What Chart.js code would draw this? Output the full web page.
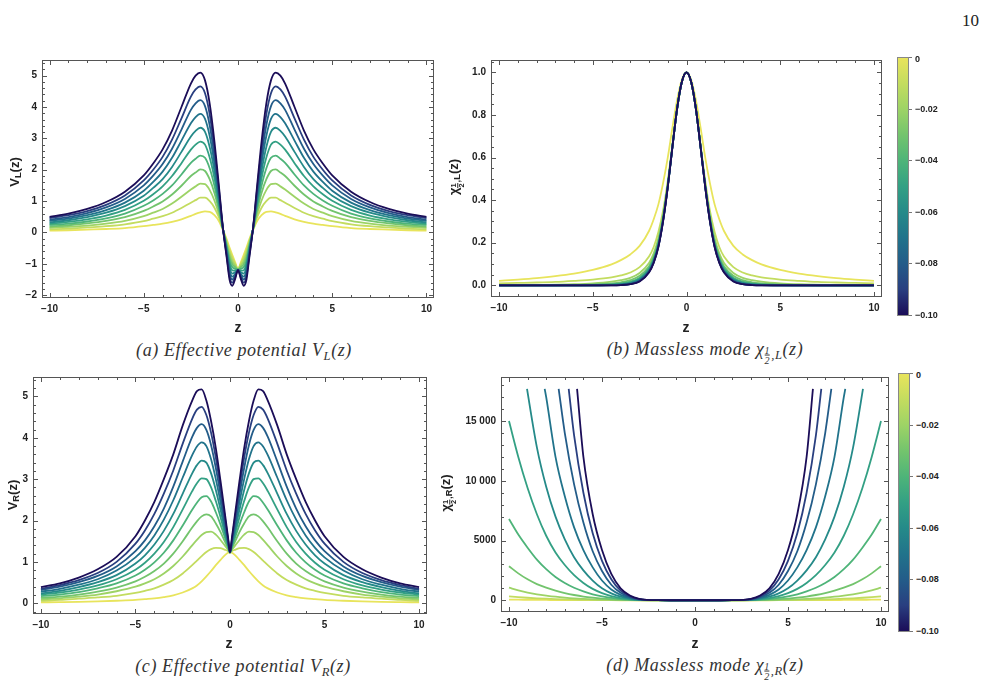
<!DOCTYPE html>
<html>
<head>
<meta charset="utf-8">
<script src="https://cdn.jsdelivr.net/npm/chart.js@4.4.1/dist/chart.umd.min.js"></script>
<style>
  body { margin: 0; background: #fff; width: 986px; height: 697px; position: relative; overflow: hidden; font-family: "Liberation Sans", Arial, sans-serif; }
  canvas { position: absolute; }
  .lbl { position: absolute; font-weight: bold; font-size: 14px; color: #222; white-space: nowrap; transform: translate(-50%, -50%); }
  .ylbl { font-size: 13px; transform: translate(-50%, -50%) rotate(-90deg); }
  .lbl sub { font-size: 0.72em; vertical-align: -0.25em; }
  .cap { position: absolute; font-family: "Liberation Serif", "DejaVu Serif", serif; font-style: italic; font-size: 18px; color: #333; white-space: nowrap; transform: translate(-50%, -50%); letter-spacing: 0.6px; }
  .cap sub { font-size: 0.7em; vertical-align: -0.3em; }
  .frac { display: inline-flex; flex-direction: column; vertical-align: middle; font-size: 0.8em; line-height: 0.95; text-align: center; margin-right: 1px; }
  .frac span:first-child { border-bottom: 1px solid currentColor; }
  .page { position: absolute; left: 962px; top: 11px; font-family: "Liberation Serif", serif; font-size: 17px; color: #222; }
  .cbar { position: absolute; width: 12px; border: 1px solid #888; box-sizing: border-box; }
  .cbl { position: absolute; font-weight: bold; font-size: 9px; color: #222; transform: translateY(-50%); white-space: nowrap; }
  .cbt { position: absolute; width: 3px; height: 1px; background: #777; }
</style>
</head>
<body>
<div class="page">10</div>
<script>
// parameter values of the 11 curves (colour bar), yellow = 0 ... dark = -0.10
const paramValues = [0, -0.01, -0.02, -0.03, -0.04, -0.05, -0.06, -0.07, -0.08, -0.09, -0.10];
const curveColors = ['#e8e45c', '#c3dc5f', '#9dd366', '#73c46d', '#4eb479', '#33a084', '#258a89', '#21738b', '#235c89', '#293f80', '#1b0d58'];

// colour bar ticks
const cbValues = [0, -0.02, -0.04, -0.06, -0.08, -0.10];
const cbLabels = ['0', '−0.02', '−0.04', '−0.06', '−0.08', '−0.10'];

// shared x ticks
const xTicks = [-10, -5, 0, 5, 10];
const xTickLabels = ['−10', '−5', '0', '5', '10'];

// (a) effective potential V_L(z), read for z >= 0 (curves are even in z)
const zA = [0, 0.15, 0.3, 0.45, 0.6, 0.8, 1.0, 1.25, 1.5, 1.75, 2.0, 2.25, 2.5, 3, 3.5, 4, 4.5, 5, 6, 7, 8, 9, 10];
const vL = [
  [-1.17, -0.95, -0.72, -0.48, -0.22, 0.08, 0.35, 0.55, 0.66, 0.67, 0.64, 0.59, 0.53, 0.42, 0.34, 0.28, 0.24, 0.20, 0.14, 0.11, 0.09, 0.07, 0.06],
  [-1.17, -1.00, -0.82, -0.58, -0.28, 0.09, 0.46, 0.79, 1.00, 1.11, 1.11, 1.03, 0.95, 0.78, 0.63, 0.52, 0.44, 0.36, 0.26, 0.20, 0.16, 0.12, 0.10],
  [-1.18, -1.06, -0.92, -0.68, -0.34, 0.09, 0.56, 1.02, 1.35, 1.54, 1.56, 1.47, 1.37, 1.14, 0.92, 0.75, 0.63, 0.52, 0.37, 0.28, 0.22, 0.18, 0.15],
  [-1.18, -1.11, -1.01, -0.79, -0.39, 0.10, 0.67, 1.26, 1.69, 1.96, 2.01, 1.91, 1.80, 1.49, 1.21, 0.99, 0.83, 0.69, 0.49, 0.37, 0.29, 0.23, 0.19],
  [-1.18, -1.16, -1.11, -0.89, -0.45, 0.11, 0.77, 1.49, 2.04, 2.38, 2.45, 2.35, 2.22, 1.85, 1.50, 1.23, 1.02, 0.85, 0.60, 0.45, 0.35, 0.28, 0.24],
  [-1.19, -1.22, -1.21, -0.99, -0.51, 0.12, 0.88, 1.73, 2.38, 2.80, 2.90, 2.80, 2.64, 2.21, 1.80, 1.47, 1.22, 1.01, 0.72, 0.54, 0.42, 0.34, 0.28],
  [-1.19, -1.27, -1.31, -1.09, -0.57, 0.12, 0.98, 1.96, 2.72, 3.21, 3.34, 3.24, 3.06, 2.57, 2.09, 1.70, 1.42, 1.17, 0.84, 0.63, 0.49, 0.39, 0.32],
  [-1.19, -1.32, -1.41, -1.19, -0.63, 0.13, 1.09, 2.20, 3.07, 3.62, 3.78, 3.68, 3.48, 2.93, 2.38, 1.94, 1.61, 1.33, 0.95, 0.71, 0.55, 0.44, 0.37],
  [-1.19, -1.37, -1.50, -1.30, -0.68, 0.14, 1.19, 2.43, 3.41, 4.03, 4.22, 4.12, 3.91, 3.28, 2.67, 2.18, 1.81, 1.50, 1.07, 0.80, 0.62, 0.49, 0.41],
  [-1.20, -1.43, -1.60, -1.40, -0.74, 0.14, 1.30, 2.67, 3.76, 4.44, 4.66, 4.56, 4.33, 3.64, 2.96, 2.41, 2.00, 1.66, 1.18, 0.88, 0.68, 0.55, 0.46],
  [-1.20, -1.48, -1.70, -1.50, -0.80, 0.15, 1.40, 2.90, 4.10, 4.85, 5.10, 5.00, 4.75, 4.00, 3.25, 2.65, 2.20, 1.82, 1.30, 0.97, 0.75, 0.60, 0.50]
];
const yTicksA = [-2, -1, 0, 1, 2, 3, 4, 5];
const yLabelsA = ['−2', '−1', '0', '1', '2', '3', '4', '5'];

// (b) massless mode chi_{1/2,L}(z), z >= 0
const zB = [0, 0.25, 0.5, 0.75, 1, 1.25, 1.5, 1.75, 2, 2.5, 3, 3.5, 4, 5, 6, 7, 8, 9, 10];
const chiL = [
  [1, 0.965, 0.87, 0.74, 0.60, 0.48, 0.38, 0.31, 0.255, 0.185, 0.145, 0.118, 0.098, 0.072, 0.055, 0.043, 0.034, 0.027, 0.021],
  [1, 0.955, 0.83, 0.66, 0.49, 0.35, 0.25, 0.18, 0.135, 0.085, 0.06, 0.046, 0.037, 0.027, 0.021, 0.016, 0.013, 0.011, 0.009],
  [1, 0.955, 0.83, 0.656, 0.478, 0.33, 0.222, 0.15, 0.105, 0.058, 0.035, 0.024, 0.017, 0.009, 0.005, 0.003, 0.002, 0.001, 0.001],
  [1, 0.955, 0.83, 0.654, 0.472, 0.32, 0.208, 0.135, 0.09, 0.045, 0.024, 0.014, 0.009, 0.004, 0.002, 0.001, 0.001, 0, 0],
  [1, 0.955, 0.83, 0.653, 0.468, 0.314, 0.20, 0.126, 0.081, 0.036, 0.017, 0.009, 0.005, 0.002, 0.001, 0, 0, 0, 0],
  [1, 0.955, 0.83, 0.652, 0.466, 0.31, 0.194, 0.12, 0.075, 0.031, 0.013, 0.006, 0.003, 0.001, 0, 0, 0, 0, 0],
  [1, 0.955, 0.83, 0.651, 0.464, 0.307, 0.19, 0.116, 0.07, 0.027, 0.01, 0.004, 0.002, 0, 0, 0, 0, 0, 0],
  [1, 0.955, 0.83, 0.651, 0.463, 0.305, 0.186, 0.112, 0.067, 0.024, 0.008, 0.003, 0.001, 0, 0, 0, 0, 0, 0],
  [1, 0.955, 0.83, 0.65, 0.462, 0.303, 0.184, 0.109, 0.064, 0.021, 0.006, 0.002, 0.001, 0, 0, 0, 0, 0, 0],
  [1, 0.955, 0.83, 0.65, 0.461, 0.301, 0.181, 0.107, 0.062, 0.019, 0.005, 0.001, 0, 0, 0, 0, 0, 0, 0],
  [1, 0.955, 0.83, 0.65, 0.46, 0.30, 0.18, 0.105, 0.06, 0.018, 0.005, 0.001, 0, 0, 0, 0, 0, 0, 0]
];
const yTicksB = [0, 0.2, 0.4, 0.6, 0.8, 1.0];
const yLabelsB = ['0.0', '0.2', '0.4', '0.6', '0.8', '1.0'];

// (c) effective potential V_R(z), z >= 0
const zC = [0, 0.1, 0.25, 0.5, 0.75, 1.0, 1.25, 1.5, 1.75, 2.0, 2.5, 3, 3.5, 4, 4.5, 5, 6, 7, 8, 9, 10];
const vR = [
  [1.23, 1.22, 1.17, 1.05, 0.92, 0.78, 0.65, 0.53, 0.43, 0.36, 0.26, 0.19, 0.15, 0.12, 0.10, 0.08, 0.06, 0.045, 0.035, 0.028, 0.022],
  [1.23, 1.26, 1.29, 1.33, 1.34, 1.31, 1.24, 1.14, 1.03, 0.92, 0.72, 0.56, 0.45, 0.36, 0.30, 0.25, 0.18, 0.14, 0.11, 0.08, 0.06],
  [1.23, 1.29, 1.38, 1.53, 1.66, 1.73, 1.72, 1.65, 1.53, 1.40, 1.13, 0.90, 0.72, 0.58, 0.48, 0.40, 0.29, 0.21, 0.16, 0.12, 0.095],
  [1.23, 1.33, 1.47, 1.72, 1.93, 2.10, 2.15, 2.10, 1.98, 1.83, 1.50, 1.20, 0.96, 0.78, 0.64, 0.53, 0.38, 0.28, 0.21, 0.16, 0.13],
  [1.23, 1.36, 1.56, 1.90, 2.20, 2.46, 2.59, 2.56, 2.43, 2.26, 1.88, 1.52, 1.22, 0.99, 0.81, 0.67, 0.48, 0.36, 0.27, 0.21, 0.17],
  [1.23, 1.40, 1.65, 2.08, 2.47, 2.80, 3.00, 3.02, 2.90, 2.71, 2.27, 1.84, 1.48, 1.20, 0.98, 0.81, 0.58, 0.43, 0.33, 0.26, 0.21],
  [1.23, 1.44, 1.74, 2.26, 2.74, 3.14, 3.40, 3.45, 3.34, 3.14, 2.65, 2.16, 1.75, 1.42, 1.16, 0.96, 0.68, 0.51, 0.39, 0.30, 0.24],
  [1.23, 1.47, 1.83, 2.44, 3.00, 3.48, 3.80, 3.89, 3.79, 3.58, 3.04, 2.49, 2.02, 1.64, 1.34, 1.11, 0.79, 0.58, 0.45, 0.35, 0.28],
  [1.23, 1.51, 1.92, 2.62, 3.27, 3.82, 4.19, 4.33, 4.24, 4.02, 3.43, 2.82, 2.29, 1.86, 1.52, 1.26, 0.89, 0.66, 0.51, 0.40, 0.32],
  [1.23, 1.54, 2.01, 2.79, 3.52, 4.12, 4.55, 4.75, 4.68, 4.46, 3.86, 3.21, 2.65, 2.16, 1.76, 1.44, 1.00, 0.73, 0.56, 0.44, 0.35],
  [1.23, 1.58, 2.10, 2.95, 3.75, 4.40, 4.90, 5.17, 5.13, 4.90, 4.30, 3.60, 3.00, 2.45, 2.00, 1.62, 1.12, 0.82, 0.62, 0.48, 0.39]
];
const yTicksC = [0, 1, 2, 3, 4, 5];
const yLabelsC = ['0', '1', '2', '3', '4', '5'];

// (d) massless mode chi_{1/2,R}(z), z >= 0; the five darkest run off the plot range
const zD = [0, 1, 2, 3, 3.5, 4, 4.5, 5, 5.5, 6, 6.5, 7, 7.5, 8, 8.5, 9, 9.5, 10];
const chiR = [
  [0, 0, 0, 0, 0, 1, 2, 4, 5, 8, 10, 15, 18, 25, 30, 40, 48, 60],
  [0, 0, 0, 1, 3, 6, 11, 18, 27, 40, 55, 75, 100, 130, 165, 210, 265, 330],
  [0, 0, 1, 3, 9, 18, 32, 52, 80, 115, 160, 220, 295, 390, 500, 640, 830, 1050],
  [0, 0, 1, 8, 22, 45, 85, 140, 215, 310, 440, 600, 800, 1050, 1350, 1750, 2250, 2850],
  [0, 0, 2, 15, 45, 100, 190, 320, 500, 740, 1050, 1450, 1950, 2600, 3400, 4400, 5500, 6800],
  [0, 0, 2, 25, 80, 180, 350, 600, 950, 1450, 2100, 2950, 4000, 5400, 7200, 9400, 12000, 15000],
  [0, 0, 3, 40, 130, 300, 580, 1000, 1650, 2500, 3600, 5100, 7000, 9500, 12800, 17400, null, null],
  [0, 0, 3, 60, 190, 450, 900, 1650, 2750, 4200, 6100, 8700, 12000, 17000, null, null, null, null],
  [0, 0, 4, 80, 260, 620, 1300, 2450, 4100, 6500, 9700, 14000, null, null, null, null, null, null],
  [0, 0, 4, 100, 330, 800, 1750, 3300, 5600, 9000, 13800, null, null, null, null, null, null, null],
  [0, 0, 5, 120, 400, 1000, 2200, 4200, 7200, 12000, null, null, null, null, null, null, null, null]
];
const chiRTopZ = [null, null, null, null, null, null, 9.03, 8.08, 7.33, 6.79, 6.34];
const chiRClip = 17700;
const yTicksD = [0, 5000, 10000, 15000];
const yLabelsD = ['0', '5000', '10 000', '15 000'];

// ---------------------------------------------------------------
const AXW = 60, AXH = 24, PT = 6, PR = 4;
const TICK_FONT = { family: '"Liberation Sans", Arial, sans-serif', weight: 'bold', size: 10 };

function mirror(zs, vs, top, clip) {
  const pts = [];
  if (top != null) pts.push({ x: -top, y: clip });
  for (let i = zs.length - 1; i > 0; i--) if (vs[i] !== null) pts.push({ x: -zs[i], y: vs[i] });
  for (let i = 0; i < zs.length; i++) if (vs[i] !== null) pts.push({ x: zs[i], y: vs[i] });
  if (top != null) pts.push({ x: top, y: clip });
  return pts;
}

// Mathematica-style frame with inward ticks on all four sides
const frameTicks = {
  id: 'frameTicks',
  afterDatasetsDraw(chart, args, opts) {
    const { ctx, chartArea: a, scales: { x, y } } = chart;
    ctx.save();
    ctx.strokeStyle = '#555';
    ctx.lineWidth = 1;
    const tick = (px, len, vertical) => {
      ctx.beginPath();
      if (vertical) {
        ctx.moveTo(px, a.bottom); ctx.lineTo(px, a.bottom - len);
        ctx.moveTo(px, a.top); ctx.lineTo(px, a.top + len);
      } else {
        ctx.moveTo(a.left, px); ctx.lineTo(a.left + len, px);
        ctx.moveTo(a.right, px); ctx.lineTo(a.right - len, px);
      }
      ctx.stroke();
    };
    for (let v = -10; v <= 10; v += 1) {
      const px = Math.round(x.getPixelForValue(v)) + 0.5;
      tick(px, v % 5 === 0 ? 5 : 3, true);
    }
    const [y0, y1] = [y.min, y.max];
    for (let k = Math.ceil(y0 / opts.minor); k * opts.minor <= y1; k++) {
      const v = k * opts.minor;
      const major = Math.abs(v / opts.major - Math.round(v / opts.major)) < 1e-6;
      tick(Math.round(y.getPixelForValue(v)) + 0.5, major ? 5 : 3, false);
    }
    ctx.strokeRect(Math.round(a.left) + 0.5, Math.round(a.top) + 0.5, Math.round(a.width) - 1, Math.round(a.height) - 1);
    ctx.restore();
  }
};

function makePanel(frame, xRange, yRange, zs, rows, yTicks, yLabels, minor, major, tops, clip) {
  const cv = document.createElement('canvas');
  const w = frame.R - frame.L + AXW + PR;
  const h = frame.B - frame.T + PT + AXH;
  cv.width = w; cv.height = h;
  cv.style.left = (frame.L - AXW) + 'px';
  cv.style.top = (frame.T - PT) + 'px';
  document.body.appendChild(cv);

  const datasets = [];
  for (let k = rows.length - 1; k >= 0; k--) {
    datasets.push({
      data: mirror(zs, rows[k], tops ? tops[k] : null, clip),
      borderColor: curveColors[k],
      borderWidth: 1.8,
      pointRadius: 0,
      fill: false,
      cubicInterpolationMode: 'monotone'
    });
  }

  new Chart(cv.getContext('2d'), {
    type: 'line',
    data: { datasets },
    options: {
      responsive: false,
      animation: false,
      events: [],
      layout: { padding: { top: PT, right: PR, left: 0, bottom: 0 } },
      plugins: { legend: { display: false }, tooltip: { enabled: false }, frameTicks: { minor, major } },
      scales: {
        x: {
          type: 'linear', min: xRange[0], max: xRange[1],
          afterFit: s => { s.height = AXH; },
          afterBuildTicks: s => { s.ticks = xTicks.map(v => ({ value: v })); },
          grid: { display: false, drawTicks: false }, border: { display: false },
          ticks: { font: TICK_FONT, color: '#222', padding: 5, maxRotation: 0, autoSkip: false, callback: (v, i) => xTickLabels[i] }
        },
        y: {
          type: 'linear', min: yRange[0], max: yRange[1],
          afterFit: s => { s.width = AXW; },
          afterBuildTicks: s => { s.ticks = yTicks.map(v => ({ value: v })); },
          grid: { display: false, drawTicks: false }, border: { display: false },
          ticks: { font: TICK_FONT, color: '#222', padding: 5, autoSkip: false, callback: (v, i) => yLabels[i] }
        }
      }
    },
    plugins: [frameTicks]
  });
}

function addText(html, cls, x, y) {
  const d = document.createElement('div');
  d.className = cls;
  d.innerHTML = html;
  d.style.left = x + 'px';
  d.style.top = y + 'px';
  document.body.appendChild(d);
}

function makeColorbar(x, top, bottom) {
  const bar = document.createElement('div');
  bar.className = 'cbar';
  bar.style.left = x + 'px';
  bar.style.top = top + 'px';
  bar.style.height = (bottom - top) + 'px';
  bar.style.background = 'linear-gradient(to bottom, ' + curveColors.join(', ') + ')';
  document.body.appendChild(bar);
  cbValues.forEach((v, i) => {
    const y = top + (0 - v) / 0.10 * (bottom - top - 1);
    const t = document.createElement('div');
    t.className = 'cbt';
    t.style.left = (x + 12) + 'px';
    t.style.top = Math.round(y) + 'px';
    document.body.appendChild(t);
    const l = document.createElement('div');
    l.className = 'cbl';
    l.textContent = cbLabels[i];
    l.style.left = (x + 18) + 'px';
    l.style.top = (y + (i === 0 ? 2 : 0)) + 'px';
    document.body.appendChild(l);
  });
}

const fracHalf = '<span class="frac"><span>1</span><span>2</span></span>';

makePanel({ L: 42, T: 55, R: 434, B: 298 }, [-10.4, 10.4], [-2.09, 5.5], zA, vL, yTicksA, yLabelsA, 0.2, 1);
makePanel({ L: 491, T: 55, R: 882, B: 297 }, [-10.43, 10.43], [-0.055, 1.058], zB, chiL, yTicksB, yLabelsB, 0.05, 0.2);
makePanel({ L: 33, T: 372, R: 427, B: 614 }, [-10.42, 10.42], [-0.26, 5.47], zC, vR, yTicksC, yLabelsC, 0.2, 1);
makePanel({ L: 501, T: 372, R: 889, B: 612 }, [-10.43, 10.43], [-984, 18690], zD, chiR, yTicksD, yLabelsD, 1000, 5000, chiRTopZ, chiRClip);

makeColorbar(897, 57, 316);
makeColorbar(898, 373, 632);

// axis titles
addText('z', 'lbl', 238, 327);
addText('z', 'lbl', 686, 327);
addText('z', 'lbl', 229, 643);
addText('z', 'lbl', 695, 643);
addText('V<sub>L</sub>(z)', 'lbl ylbl', 15, 172);
addText('χ<sub>' + fracHalf + ',L</sub>(z)', 'lbl ylbl', 456, 177);
addText('V<sub>R</sub>(z)', 'lbl ylbl', 13, 495);
addText('χ<sub>' + fracHalf + ',R</sub>(z)', 'lbl ylbl', 448, 493);

// captions
addText('(a) Effective potential V<sub>L</sub>(z)', 'cap', 244, 352);
addText('(b) Massless mode χ<sub>' + fracHalf + ',L</sub>(z)', 'cap', 705, 352);
addText('(c) Effective potential V<sub>R</sub>(z)', 'cap', 243, 668);
addText('(d) Massless mode χ<sub>' + fracHalf + ',R</sub>(z)', 'cap', 705, 668);
</script>
</body>
</html>
